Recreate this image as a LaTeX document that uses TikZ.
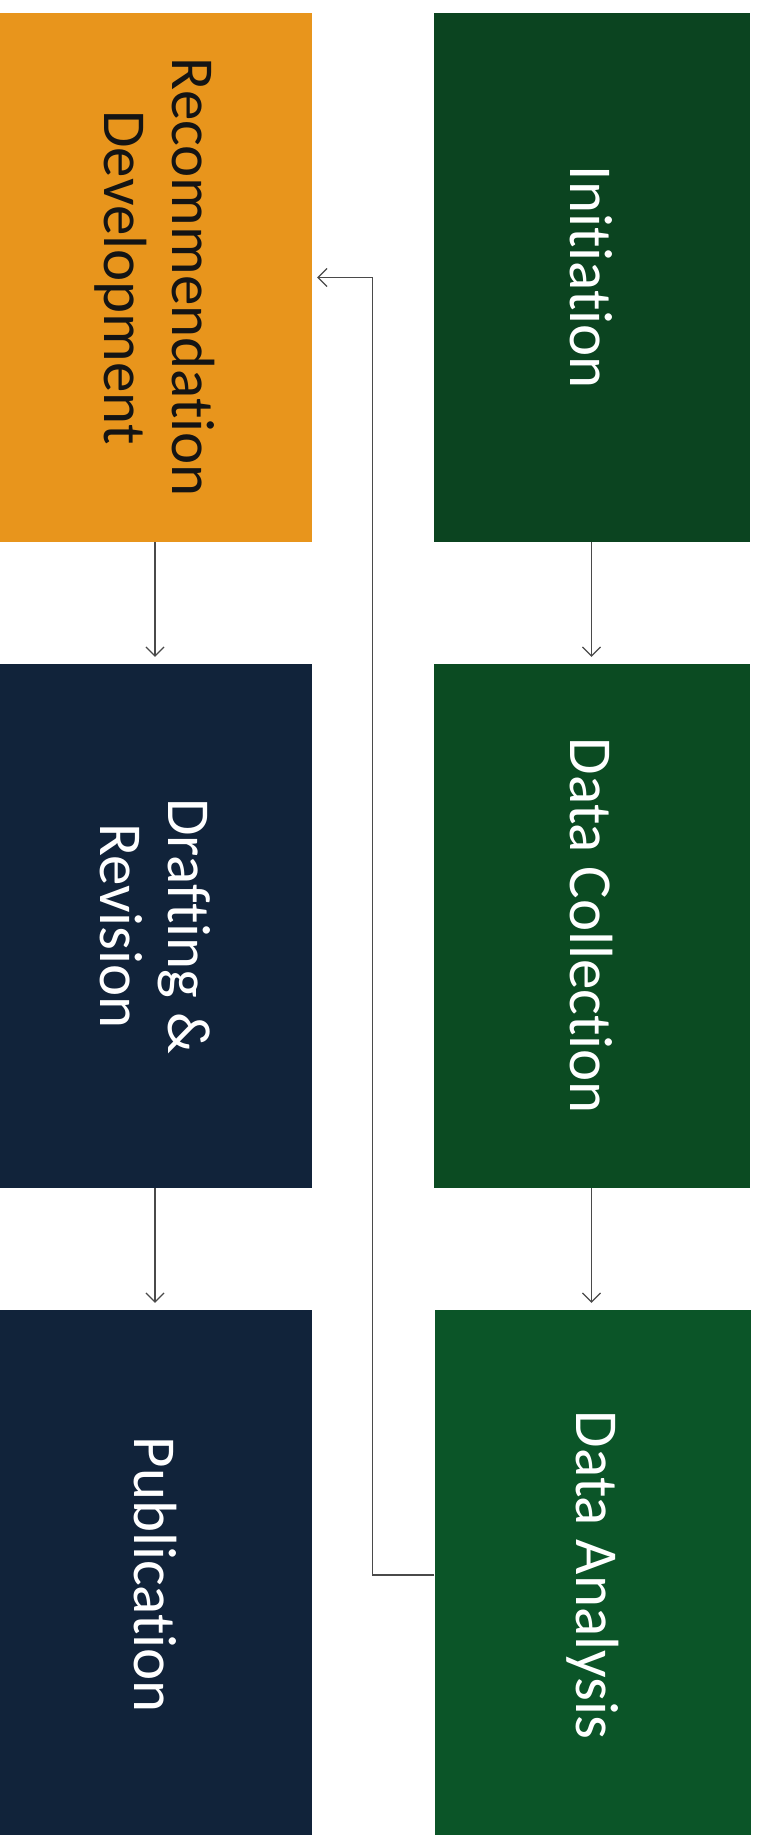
\documentclass[tikz,border=0pt]{standalone}
\usepackage{fontspec}
\setmainfont[Ligatures = NoCommon]{Carlito}
\usetikzlibrary{arrows.meta}
\usepackage{color}

\definecolor{initgreen}{HTML}{0B4420}
\definecolor{collgreen}{HTML}{0B4B22}
\definecolor{analgreen}{HTML}{0B5528}
\definecolor{navy}{HTML}{11233A}
\definecolor{amber}{HTML}{E8951C}
\definecolor{linegray}{HTML}{4A4A4A}

\begin{document}
\begin{tikzpicture}
      [x = 1pt, y = -1pt,
      stage/.style= {
         rectangle,
         rotate = -90,
         minimum width = 529,
         minimum height = 314,
         inner sep = 0pt,
         align = center,
         text = white,
         font = \fontsize{61}{68}\selectfont
      },
      flow/.style= {
         draw = linegray,
         line width = 1.2pt,
         -{Straight Barb[length = 9pt, width = 18pt]}
      }]

      \useasboundingbox (0, 0) rectangle (760, 1835);

      % right column
      \node[stage, fill = initgreen, minimum height = 316] (init) at (591.5, 277.5) {Initiation};
      \node[stage, fill = collgreen, minimum height = 316, minimum width = 524] (coll) at (591.5, 926) {Data Collection};
      \node[stage, fill = analgreen, minimum height = 316, minimum width = 530] (anal) at (592.5, 1575) {Data Analysis};

      % left column
      \node[stage, fill = amber, text = black!92] (rec) at (155, 277.5) {Recommendation\\Development};
      \node[stage, fill = navy, minimum width = 524] (draft) at (155, 926) {Drafting \&\\Revision};
      \node[stage, fill = navy, minimum width = 530] (pub) at (155, 1575) {Publication};

      \draw[flow, shorten > = 7pt] (init.east) -- (init.east |- coll.west);
      \draw[flow, shorten > = 7pt] (coll.east) -- (coll.east |- anal.west);
      \draw[flow, shorten > = 7pt] (rec.east) -- (rec.east |- draft.west);
      \draw[flow, shorten > = 7pt] (draft.east) -- (draft.east |- pub.west);
      \draw[flow, shorten > = 5pt] (anal.south) -- ++(-62, 0) |- (rec.north);

   \end{tikzpicture}
\end{document}
